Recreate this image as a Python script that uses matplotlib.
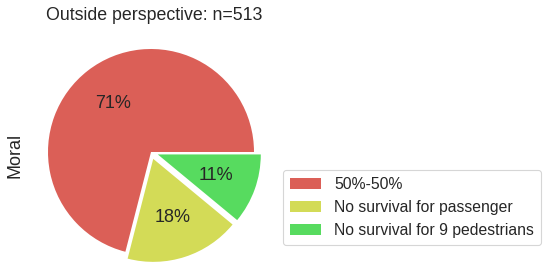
import matplotlib
matplotlib.use("Agg")
import matplotlib.pyplot as plt

labels = ["50%-50%", "No survival for passenger", "No survival for 9 pedestrians"]
values = [71, 18, 11]
colors = ["#db5f57", "#d3db57", "#57db5f"]
explode = [0, 0.07, 0.07]
title = "Outside perspective: n=513"
ylabel = "Moral"

plt.rcParams['font.family'] = ['Liberation Sans', 'DejaVu Sans']
plt.rcParams['text.color'] = '.15'

W, H = 550, 268
fig = plt.figure(figsize=(W/100, H/100), dpi=100)
r = 103
cx, cy = 151, 268 - 152
half = 1.2 * r
ax = fig.add_axes([(cx - half)/W, (cy - half)/H, 2*half/W, 2*half/H])
wedges, texts, autotexts = ax.pie(values, colors=colors, explode=explode,
                                  autopct='%1.0f%%', pctdistance=0.6,
                                  startangle=0, counterclock=True,
                                  wedgeprops=dict(edgecolor='white', linewidth=0),
                                  textprops=dict(fontsize=13, color='.15'))
ax.set_xlim(-1.2, 1.2)
ax.set_ylim(-1.2, 1.2)
ax.set_aspect('equal')
ax.axis('off')
for w in wedges:
    w.set_clip_on(False)
ax.set_title(title, fontsize=12.75, color='.15', pad=6, x=0.5 + 3/(2*half))
fig.text(15/W, 113/H, ylabel, rotation=90, fontsize=13, color='.15', va='center', ha='center')

leg = fig.legend(wedges, labels, loc='lower left', bbox_to_anchor=(283/W, 23/H),
                 borderaxespad=0, fontsize=11.3, frameon=True, fancybox=True,
                 edgecolor='#cccccc', handlelength=2.0, handleheight=0.7,
                 borderpad=0.45)
leg.get_frame().set_linewidth(0.8)
fig.savefig("out.png", dpi=100)
